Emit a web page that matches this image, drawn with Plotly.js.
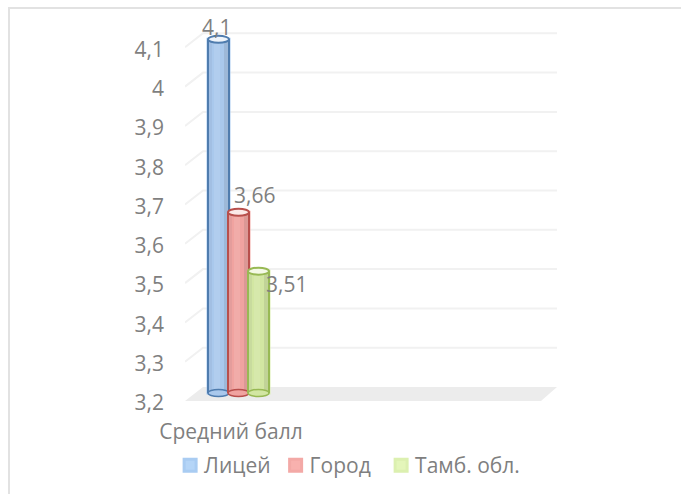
<!DOCTYPE html>
<html><head><meta charset="utf-8">
<script src="https://cdn.plot.ly/plotly-3.0.1.min.js"></script>
<style>html,body{margin:0;padding:0;background:#fff;overflow:hidden}#c{width:681px;height:494px}
#f{position:absolute;left:8px;top:7px;width:680px;height:500px;border-left:2px solid #e2e2e2;border-top:2px solid #e2e2e2;pointer-events:none}
.legendtext{transform:translateX(-6px)}
.legend .scrollbox{clip-path:none !important}</style>
</head><body><div id="c"></div><div id="f"></div>
<script>
const category = 'Средний балл';
const seriesNames = ['Лицей', 'Город', 'Тамб. обл.'];
const seriesValues = [4.1, 3.66, 3.51];
const tickValues = [3.2, 3.3, 3.4, 3.5, 3.6, 3.7, 3.8, 3.9, 4, 4.1];
const swatchFill = ['#b5d5f7', '#f8b1ae', '#e4f6ba'];
const swatchEdge = ['#a9ccf2', '#f3a9a6', '#dcf0b0'];
const barFill = ['#a9c8ec', '#f0a3a0', '#d2e6a2'];
const edge = ['#4f7cae', '#b84f4c', '#98b954'];
const capFill = ['#eef4fb', '#fbe9e8', '#f4f9e6'];

const fmt = v => String(v).replace('.', ',');
const W = 681, H = 494, L = 185, R = 557, T = 20, B = 410;
const pxPerUnit = 393, axisBase = 3.2;
const rangeFor = basePx => [axisBase - (B - basePx) / pxPerUnit, axisBase + (basePx - T) / pxPerUnit];
const xLeft = -53.5, xRight = xLeft + (R - L);
const barW = 21, offsets = [-30.5, -10.5, 9.5];
const backX = xLeft + 18, floorRightFront = xRight - 16;
const depth = 14 / pxPerUnit, capH = 3.5 / pxPerUnit;

const traces = seriesNames.map((n, i) => ({
  type: 'bar', name: n, x: [0], y: [seriesValues[i] - axisBase], base: axisBase,
  width: barW, offset: offsets[i], xaxis: 'x', yaxis: 'y',
  marker: {color: swatchFill[i], line: {color: swatchEdge[i], width: 3}},
  hoverinfo: 'skip'
}));

const shapes = [];
shapes.push({type:'path', layer:'below', xref:'x', yref:'y3', line:{width:0}, fillcolor:'#ececec',
  path:`M${xLeft},${axisBase-depth}L${backX},${axisBase}L${xRight},${axisBase}L${floorRightFront},${axisBase-depth}Z`});
tickValues.forEach((v, k) => {
  if (k === 0) return;
  shapes.push({type:'path', layer:'below', xref:'x', yref:'y3', line:{color:'#f1f1f1', width:2},
    path:`M${xLeft},${v-depth}L${backX},${v}L${xRight},${v}`});
});
seriesValues.forEach((v, i) => {
  const a = offsets[i], b = a + barW;
  shapes.push({type:'rect', xref:'x', yref:'y', x0:a, x1:b, y0:axisBase, y1:v, line:{width:0}, fillcolor:barFill[i]});
  shapes.push({type:'rect', xref:'x', yref:'y', x0:a+1, x1:a+4, y0:axisBase, y1:v, line:{width:0}, fillcolor:'rgba(70,90,120,0.07)'});
  shapes.push({type:'rect', xref:'x', yref:'y', x0:a+6, x1:a+12, y0:axisBase, y1:v, line:{width:0}, fillcolor:'rgba(255,255,255,0.10)'});
  shapes.push({type:'rect', xref:'x', yref:'y', x0:b-5, x1:b-1, y0:axisBase, y1:v, line:{width:0}, fillcolor:'rgba(70,70,70,0.12)'});
  shapes.push({type:'circle', xref:'x', yref:'y', x0:a, x1:b, y0:axisBase-capH, y1:axisBase+capH, line:{color:edge[i], width:1.5}, fillcolor:barFill[i]});
  shapes.push({type:'line', xref:'x', yref:'y', x0:a, x1:a, y0:axisBase, y1:v, line:{color:edge[i], width:2}});
  shapes.push({type:'line', xref:'x', yref:'y', x0:b, x1:b, y0:axisBase, y1:v, line:{color:edge[i], width:2}});
  shapes.push({type:'circle', xref:'x', yref:'y', x0:a, x1:b, y0:v-capH, y1:v+capH, line:{color:edge[i], width:2}, fillcolor:capFill[i]});
});

const labelShift = [[-2, 12], [15.5, 17], [28, -13]];
const annotations = seriesValues.map((v, i) => ({
  x: offsets[i] + barW / 2, y: v, xref:'x', yref:'y', text: fmt(v), showarrow:false,
  xshift: labelShift[i][0], yshift: labelShift[i][1], font:{size:21, color:'#7f7f7f'}
}));

const layout = {
  width: W, height: H, margin:{l:L, r:W-R, t:T, b:H-B, autoexpand:false},
  paper_bgcolor:'#fff', plot_bgcolor:'rgba(0,0,0,0)',
  font:{family:'"Open Sans", sans-serif', color:'#7f7f7f', size:21},
  barmode:'overlay', showlegend:true,
  legend:{orientation:'h', x:-0.04, xanchor:'left', y:-0.09, yanchor:'top', entrywidth:60.5, entrywidthmode:'pixels', font:{size:21, color:'#7f7f7f'}, itemclick:false},
  xaxis:{type:'linear', range:[xLeft, xRight], tickmode:'array', tickvals:[-7.5], ticktext:[category], ticks:'outside', ticklen:3, tickcolor:'rgba(0,0,0,0)',
    showgrid:false, zeroline:false, showline:false, tickfont:{size:21, color:'#7f7f7f'}},
  yaxis:{range:rangeFor(393), showticklabels:false, showgrid:false, zeroline:false, showline:false, ticks:''},
  yaxis2:{overlaying:'y', side:'left', range:rangeFor(403), tickmode:'array', tickvals:tickValues, ticktext:tickValues.map(fmt), ticklabelstandoff:20,
    showgrid:false, zeroline:false, showline:false, ticks:'', tickfont:{size:21, color:'#7f7f7f'}},
  yaxis3:{overlaying:'y', side:'right', range:rangeFor(387), visible:false, showgrid:false, zeroline:false},
  shapes, annotations
};
traces.push({type:'scatter', x:[xLeft], y:[axisBase], yaxis:'y2', mode:'markers', marker:{opacity:0}, showlegend:false, hoverinfo:'skip'});
traces.push({type:'scatter', x:[xLeft], y:[axisBase], yaxis:'y3', mode:'markers', marker:{opacity:0}, showlegend:false, hoverinfo:'skip'});
Plotly.newPlot('c', traces, layout, {displayModeBar:false, staticPlot:true});
</script></body></html>
